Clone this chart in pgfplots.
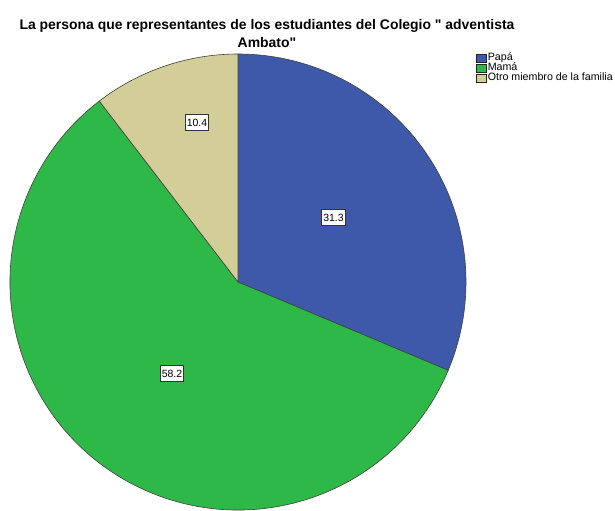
\documentclass[border=0pt]{standalone}
\usepackage{pgfplots}
\pgfplotsset{compat=1.18}
\usepackage{fontspec}
\setmainfont{Liberation Sans}[Ligatures=TeXOff]
\definecolor{papa}{HTML}{3E58AA}
\definecolor{mama}{HTML}{2EB848}
\definecolor{otro}{HTML}{D3CE97}
% data (percent)
\def\vPapa{31.3}
\def\vMama{58.2}
\def\vOtro{10.4}
\pgfmathsetmacro\vSum{\vPapa+\vMama+\vOtro}
\pgfmathsetmacro\vK{360/\vSum}
\pgfmathsetmacro\aA{90}
\pgfmathsetmacro\aB{90-\vK*\vPapa}
\pgfmathsetmacro\aC{\aB-\vK*\vMama}
\pgfmathsetmacro\aD{\aC-\vK*\vOtro}
\def\R{228bp}
\begin{document}
\begin{tikzpicture}
\begin{axis}[
  scale only axis, width=615bp, height=511bp,
  xmin=0, xmax=615, ymin=0, ymax=511, y dir=reverse,
  hide axis, clip=false,
  legend image code/.code={\draw[#1] (0bp,-4.3bp) rectangle (10bp,4.3bp);},
  legend style={draw=none, fill=none, at={(476/615,1-53/511)}, anchor=north west,
    font=\fontsize{10.7}{10}\selectfont, row sep=0pt, inner sep=0pt,
    nodes={inner xsep=1.2bp, inner ysep=0pt, text height=7.6bp, text depth=2.4bp}},
  legend cell align=left,
]
\addlegendimage{fill=papa, draw=black!85}
\addlegendentry{Papá}
\addlegendimage{fill=mama, draw=black!85}
\addlegendentry{Mamá}
\addlegendimage{fill=otro, draw=black!85}
\addlegendentry{Otro miembro de la familia}
\filldraw[fill=papa, draw=black!75, line width=0.6bp] (axis cs:238,282) -- ++(\aA:\R) arc[start angle=\aA, end angle=\aB, radius=\R] -- cycle;
\filldraw[fill=mama, draw=black!75, line width=0.6bp] (axis cs:238,282) -- ++(\aB:\R) arc[start angle=\aB, end angle=\aC, radius=\R] -- cycle;
\filldraw[fill=otro, draw=black!75, line width=0.6bp] (axis cs:238,282) -- ++(\aC:\R) arc[start angle=\aC, end angle=\aD, radius=\R] -- cycle;
\tikzset{lab/.style={draw=black!80, fill=white, line width=0.8bp, inner xsep=1.5bp, inner ysep=0pt, minimum height=16bp, font=\fontsize{10.5}{11}\selectfont}}
\node[lab] at (axis cs:333.5,217.5) {\vPapa};
\node[lab] at (axis cs:172,373.5) {\vMama};
\node[lab] at (axis cs:197,122.5) {\vOtro};
\node[anchor=base, font=\bfseries\fontsize{14}{16}\selectfont] at (axis cs:267,30) {La persona que representantes de los estudiantes del Colegio " adventista};
\node[anchor=base, font=\bfseries\fontsize{14}{16}\selectfont] at (axis cs:267,47) {Ambato"};
\end{axis}
\pgfresetboundingbox
\path (current axis.south west) rectangle (current axis.north east);
\end{tikzpicture}
\end{document}
